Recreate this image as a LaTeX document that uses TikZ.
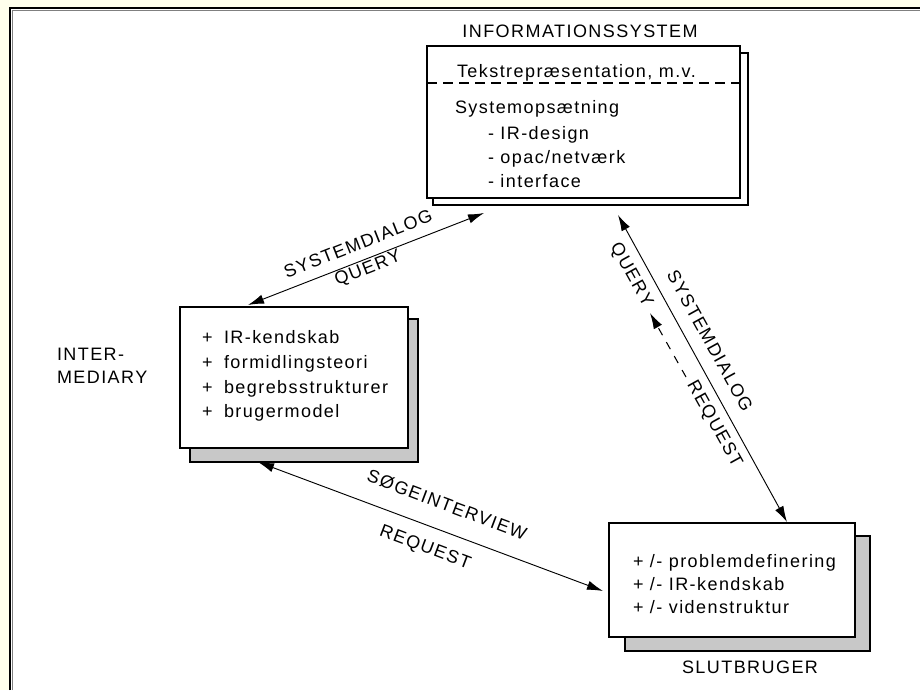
\documentclass[tikz,border=0pt]{standalone}
\usepackage{fontspec}
\setmainfont{Liberation Sans}[LetterSpace=8]
\usetikzlibrary{arrows.meta,fit}
\definecolor{bgyellow}{RGB}{255,255,236}
\definecolor{shadowgray}{RGB}{200,200,200}
\begin{document}
\begin{tikzpicture}[x=0.75pt,y=-0.75pt,
  txt/.style={font=\fontsize{13.5pt}{16pt}\selectfont, inner sep=0pt, outer sep=0pt},
  frontbox/.style={draw=black, line width=1.1pt, fill=white, inner sep=0pt},
  shadowbox/.style={draw=black, line width=1.1pt, fill=shadowgray, inner sep=0pt},
  whiteshadow/.style={draw=black, line width=1.1pt, fill=white, inner sep=0pt},
  conn/.style={line width=0.7pt, {Latex[length=12pt,width=7pt]}-{Latex[length=12pt,width=7pt]}},
  dashconn/.style={line width=0.8pt, dash pattern=on 6pt off 6pt, -{Latex[length=12pt,width=7pt]}},
  sepline/.style={line width=0.9pt, dash pattern=on 7.5pt off 4.5pt}
  ]
\useasboundingbox (0,0) rectangle (920,690);
% frame
\fill[bgyellow] (0,0) rectangle (920,690);
\fill[white] (10,8) rectangle (920,690);
\draw[line width=1.5pt] (10,690) -- (10,8) -- (920,8);
\draw[gray, line width=0.75pt] (12,690) -- (12,10) -- (920,10);

% INFORMATIONSSYSTEM
\node[whiteshadow, fit={(433,53) (748,205)}] (infoshadow) {};
\node[frontbox, fit={(427,46) (740,198)}] (info) {};
\coordinate (sepL) at (427,83);
\coordinate (sepR) at (740,83);
\draw[sepline] (sepL) -- (sepR);
\node[txt, anchor=base] (title) at (580,37) {INFORMATIONSSYSTEM};
\node[txt, anchor=base west] (i1) at (457,77) {Tekstrepræsentation, m.v.};
\node[txt, anchor=base west] (i2) at (455,113) {Systemopsætning};
\node[txt, anchor=base west] (i3) at (488,139) {- IR-design};
\node[txt, anchor=base west] (i4) at (488,163) {- opac/netværk};
\node[txt, anchor=base west] (i5) at (488,187) {- interface};

% INTERMEDIARY
\node[shadowbox, fit={(190,319) (418,462)}] (intershadow) {};
\node[frontbox, fit={(180,307) (408,448)}] (inter) {};
\node[txt, anchor=base west] (m1) at (57,360) {INTER-};
\node[txt, anchor=base west] (m2) at (57,383) {MEDIARY};
\node[txt, anchor=base west] (p1) at (202,343) {+};
\node[txt, anchor=base west] (p2) at (202,368) {+};
\node[txt, anchor=base west] (p3) at (202,393) {+};
\node[txt, anchor=base west] (p4) at (202,417) {+};
\node[txt, anchor=base west] (q1) at (224,343) {IR-kendskab};
\node[txt, anchor=base west] (q2) at (224,368) {formidlingsteori};
\node[txt, anchor=base west] (q3) at (224,393) {begrebsstrukturer};
\node[txt, anchor=base west] (q4) at (224,417) {brugermodel};

% SLUTBRUGER
\node[shadowbox, fit={(625,536) (870,651)}] (slutshadow) {};
\node[frontbox, fit={(609,523) (855,637)}] (slut) {};
\node[txt, anchor=base west] (s1) at (633,567) {+ /- problemdefinering};
\node[txt, anchor=base west] (s2) at (633,590) {+ /- IR-kendskab};
\node[txt, anchor=base west] (s3) at (633,613) {+ /- videnstruktur};
\node[txt, anchor=base] (slutlabel) at (750,673) {SLUTBRUGER};

% connector intermediary <-> informationssystem
\coordinate (a1s) at (248,305);
\coordinate (a1e) at (484,213);
\draw[conn] (a1s) -- (a1e);
\node[txt, rotate=21.5] (l1a) at (358,244) {SYSTEMDIALOG};
\node[txt, rotate=21.5] (l1b) at (368,269) {QUERY};

% connector informationssystem <-> slutbruger
\coordinate (a2s) at (618,215);
\coordinate (a2e) at (787,522);
\draw[conn] (a2s) -- (a2e);
\node[txt, rotate=-61] (l2a) at (710,341) {SYSTEMDIALOG};
\node[txt, rotate=-61] (l2b) at (631,275) {QUERY};
\coordinate (d2s) at (686,377);
\coordinate (d2e) at (650,313);
\draw[dashconn] (d2s) -- (d2e);
\node[txt, rotate=-61] (l2c) at (714,424) {REQUEST};

% connector intermediary <-> slutbruger
\coordinate (a3s) at (258,462);
\coordinate (a3e) at (603,591);
\draw[conn] (a3s) -- (a3e);
\node[txt, rotate=-20.7] (l3a) at (447,505) {SØGEINTERVIEW};
\node[txt, rotate=-20.7] (l3b) at (425,548) {REQUEST};
\end{tikzpicture}
\end{document}
